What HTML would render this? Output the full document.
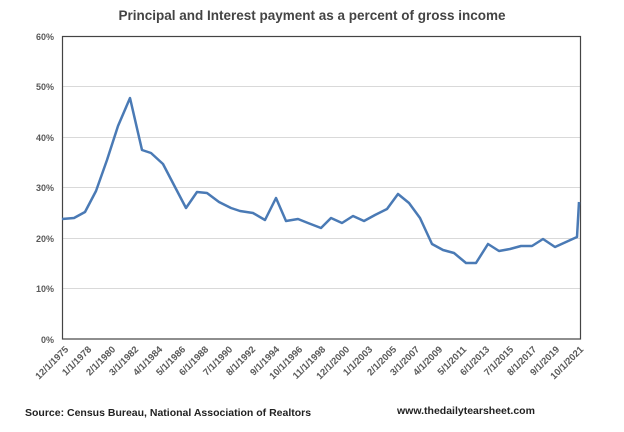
<!DOCTYPE html>
<html><head><style>body{margin:0;background:#fff}</style></head><body>
<svg width="624" height="427" xmlns="http://www.w3.org/2000/svg" font-family="Liberation Sans, sans-serif">
<rect width="624" height="427" fill="#fff"/>
<text x="312" y="20" text-anchor="middle" font-size="13.5" font-weight="bold" fill="#444">Principal and Interest payment as a percent of gross income</text>
<g stroke="#d9d9d9" stroke-width="1">
<line x1="62" x2="580" y1="86.5" y2="86.5"/><line x1="62" x2="580" y1="137.5" y2="137.5"/>
<line x1="62" x2="580" y1="187.5" y2="187.5"/><line x1="62" x2="580" y1="238.5" y2="238.5"/>
<line x1="62" x2="580" y1="288.5" y2="288.5"/>
</g>
<rect x="62.5" y="36.5" width="518" height="302.5" fill="none" stroke="#444" stroke-width="1.2"/>
<g font-size="9" font-weight="bold" fill="#595959" text-anchor="end">
<text x="54" y="40">60%</text><text x="54" y="90">50%</text><text x="54" y="141">40%</text>
<text x="54" y="191">30%</text><text x="54" y="242">20%</text><text x="54" y="292">10%</text><text x="54" y="343">0%</text>
</g>
<polyline fill="none" stroke="#4a7ab5" stroke-width="2.5" stroke-linejoin="round" points="62,219 74,218 85,212 96,191 107,160 118,126 130,98 142,150 151,153 163,164 175,187 186,208 197,192 207,193 219,202 231,208 240,211 253,213 265,220 276,198 286,221 298,219 308,223 321,228 331,218 342,223 353,216 364,221 375,215 387,209 398,194 409,203 420,218 432,244 443,250 454,253 466,263 476,263 488,244 499,251 510,249 521,246 532,246 543,239 555,247 566,242 577,237 579,202"/>
<g font-size="9.5" font-weight="bold" fill="#595959" text-anchor="end">
<text transform="translate(69,350) rotate(-45)">12/1/1975</text>
<text transform="translate(92,350) rotate(-45)">1/1/1978</text>
<text transform="translate(116,350) rotate(-45)">2/1/1980</text>
<text transform="translate(139,350) rotate(-45)">3/1/1982</text>
<text transform="translate(163,350) rotate(-45)">4/1/1984</text>
<text transform="translate(186,350) rotate(-45)">5/1/1986</text>
<text transform="translate(209,350) rotate(-45)">6/1/1988</text>
<text transform="translate(233,350) rotate(-45)">7/1/1990</text>
<text transform="translate(256,350) rotate(-45)">8/1/1992</text>
<text transform="translate(280,350) rotate(-45)">9/1/1994</text>
<text transform="translate(303,350) rotate(-45)">10/1/1996</text>
<text transform="translate(326,350) rotate(-45)">11/1/1998</text>
<text transform="translate(350,350) rotate(-45)">12/1/2000</text>
<text transform="translate(373,350) rotate(-45)">1/1/2003</text>
<text transform="translate(397,350) rotate(-45)">2/1/2005</text>
<text transform="translate(420,350) rotate(-45)">3/1/2007</text>
<text transform="translate(443,350) rotate(-45)">4/1/2009</text>
<text transform="translate(467,350) rotate(-45)">5/1/2011</text>
<text transform="translate(490,350) rotate(-45)">6/1/2013</text>
<text transform="translate(514,350) rotate(-45)">7/1/2015</text>
<text transform="translate(537,350) rotate(-45)">8/1/2017</text>
<text transform="translate(560,350) rotate(-45)">9/1/2019</text>
<text transform="translate(584,350) rotate(-45)">10/1/2021</text>
</g>
<text x="25" y="416" font-size="10.5" font-weight="bold" fill="#222">Source: Census Bureau, National Association of Realtors</text>
<text x="397" y="414" font-size="10.5" font-weight="bold" fill="#222">www.thedailytearsheet.com</text>
</svg>
</body></html>
